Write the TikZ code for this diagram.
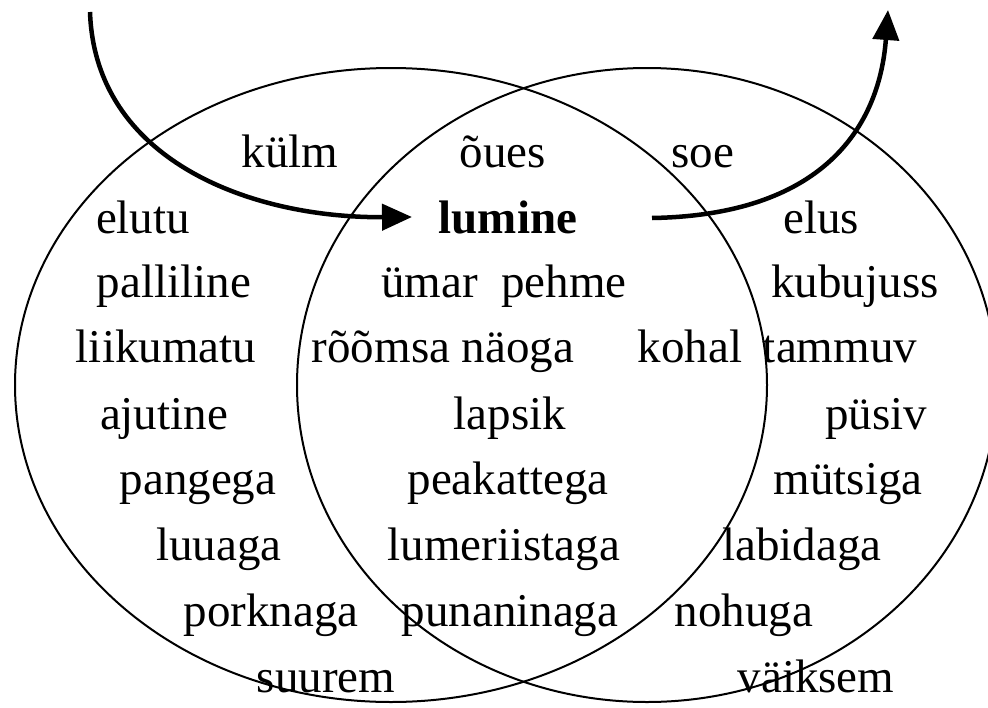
\documentclass[tikz,border=0pt]{standalone}
\usepackage{fontspec}
\setmainfont{Liberation Serif}
\usetikzlibrary{arrows.meta,shapes.geometric}
\begin{document}
\begin{tikzpicture}[x=1pt,y=-1pt,
  ring/.style={draw,ellipse,line width=2pt,inner sep=0pt},
  word/.style={anchor=base,inner sep=0pt,font=\fontsize{47}{50}\selectfont},
  flow/.style={line width=4.5pt,-{Triangle[length=30pt,width=26pt]}}]
\useasboundingbox (0,0) rectangle (988,707);
\node[ring,minimum width=752pt,minimum height=634pt] (L) at (391,385) {};
\node[ring,minimum width=700pt,minimum height=634pt] (R) at (647,385) {};
% row 1
\node[word] (kylm) at (290,167) {külm};
\node[word] (oues) at (503,167) {õues};
\node[word] (soe) at (703,167) {soe};
% row 2
\node[word] (elutu) at (143,233) {elutu};
\node[word,font=\fontsize{47}{50}\selectfont\bfseries] (lumine) at (508,233) {lumine};
\node[word] (elus) at (821,233) {elus};
% row 3
\node[word] (palliline) at (174,297) {palliline};
\node[word] (ymar) at (504,297) {ümar\ \ pehme};
\node[word] (kubujuss) at (855,297) {kubujuss};
% row 4
\node[word] (liikumatu) at (166,362) {liikumatu};
\node[word] (roomsa) at (443,362) {rõõmsa näoga};
\node[word] (kohal) at (690,362) {kohal};
\node[word] (tammuv) at (840,362) {tammuv};
% row 5
\node[word] (ajutine) at (164,429) {ajutine};
\node[word] (lapsik) at (510,429) {lapsik};
\node[word] (pysiv) at (876,429) {püsiv};
% row 6
\node[word] (pangega) at (198,494) {pangega};
\node[word] (peakattega) at (508,494) {peakattega};
\node[word] (mytsiga) at (848,494) {mütsiga};
% row 7
\node[word] (luuaga) at (219,560) {luuaga};
\node[word] (lumeriistaga) at (504,560) {lumeriistaga};
\node[word] (labidaga) at (802,560) {labidaga};
% row 8
\node[word] (porknaga) at (271,626) {porknaga};
\node[word] (punaninaga) at (510,626) {punaninaga};
\node[word] (nohuga) at (744,626) {nohuga};
% row 9
\node[word] (suurem) at (326,692) {suurem};
\node[word] (vaiksem) at (816,692) {väiksem};
% arrows
\coordinate (inS) at (90,12);
\coordinate (inE) at (412,217);
\coordinate (outS) at (652,218);
\coordinate (outE) at (888,10);
\draw[flow] (inS) .. controls (95,160) and (250,218) .. (inE);
\draw[flow] (outS) .. controls (830,215) and (880,120) .. (outE);
\end{tikzpicture}
\end{document}
